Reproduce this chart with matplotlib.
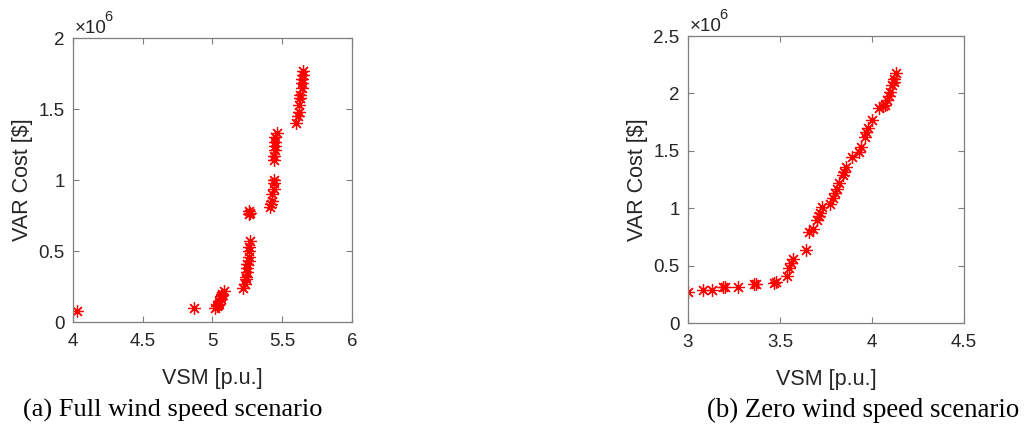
#!/usr/bin/env python3
# -*- coding: utf-8 -*-

import numpy as np
import matplotlib
matplotlib.use('Agg')
import matplotlib.pyplot as plt
from matplotlib.ticker import FuncFormatter

# (a) full wind speed scenario: VSM [p.u.] vs VAR cost [x1e6 $]
vsm_full = [4.03, 4.87,
            5.02, 5.03, 5.04, 5.05, 5.05, 5.06, 5.06, 5.07, 5.07, 5.08,
            5.22, 5.23, 5.24, 5.24, 5.25, 5.25, 5.25, 5.26, 5.26, 5.26, 5.26, 5.27,
            5.26, 5.27, 5.26,
            5.41, 5.42, 5.43, 5.43, 5.44, 5.44, 5.44,
            5.44, 5.44, 5.45, 5.45, 5.45, 5.45, 5.46,
            5.60, 5.61, 5.62, 5.62, 5.63, 5.63, 5.64, 5.64, 5.64, 5.65, 5.65]
cost_full = [0.08, 0.10,
             0.10, 0.11, 0.12, 0.13, 0.15, 0.16, 0.18, 0.19, 0.20, 0.22,
             0.24, 0.27, 0.30, 0.32, 0.35, 0.38, 0.41, 0.43, 0.46, 0.50, 0.53, 0.57,
             0.76, 0.77, 0.78,
             0.81, 0.83, 0.85, 0.90, 0.94, 0.98, 1.00,
             1.14, 1.17, 1.21, 1.24, 1.27, 1.30, 1.33,
             1.40, 1.45, 1.48, 1.53, 1.58, 1.60, 1.65, 1.68, 1.71, 1.74, 1.77]

# (b) zero wind speed scenario
vsm_zero = [3.00, 3.08, 3.13, 3.19, 3.20, 3.27, 3.36, 3.37, 3.47, 3.48,
            3.54, 3.55, 3.56, 3.57, 3.64, 3.66, 3.68, 3.70, 3.71, 3.72, 3.73,
            3.77, 3.79, 3.80, 3.81, 3.82, 3.84, 3.85, 3.86, 3.89, 3.93, 3.94,
            3.96, 3.97, 3.98, 4.00, 4.04, 4.06, 4.07, 4.08, 4.09, 4.10, 4.11,
            4.12, 4.12, 4.13]
cost_zero = [0.27, 0.29, 0.29, 0.31, 0.31, 0.31, 0.34, 0.34, 0.35, 0.36,
             0.41, 0.48, 0.52, 0.56, 0.64, 0.79, 0.82, 0.90, 0.93, 0.96, 1.01,
             1.04, 1.09, 1.13, 1.17, 1.22, 1.29, 1.32, 1.36, 1.45, 1.49, 1.53,
             1.62, 1.66, 1.70, 1.77, 1.87, 1.89, 1.90, 1.94, 1.98, 2.01, 2.07,
             2.10, 2.13, 2.18]

x_ticks_a = [4, 4.5, 5, 5.5, 6]
y_ticks_a = [0, 0.5, 1, 1.5, 2]
x_ticks_b = [3, 3.5, 4, 4.5]
y_ticks_b = [0, 0.5, 1, 1.5, 2, 2.5]

captions = ['(a) Full wind speed scenario', '(b) Zero wind speed scenario']

plt.rcParams['font.family'] = ['Liberation Sans', 'DejaVu Sans']

fig = plt.figure(figsize=(10.25, 4.29), dpi=100)
ax_a = fig.add_axes([0.0712, 0.2494, 0.2722, 0.662])
ax_b = fig.add_axes([0.6712, 0.247, 0.2693, 0.669])

edge = '#7f7f7f'
txt = '#262626'


def style_axes(ax, xs, ys, xticks, yticks):
    # MATLAB style '*' marker = 8 armed asterisk
    ax.plot(np.array(xs), np.array(ys) * 1e6, linestyle='none', marker=(8, 2, 0),
            color='#ff0000', markersize=9, markeredgewidth=0.9)
    ax.set_xlim(xticks[0], xticks[-1])
    ax.set_ylim(yticks[0] * 1e6, yticks[-1] * 1e6)
    ax.set_xticks(xticks)
    ax.set_yticks([v * 1e6 for v in yticks])
    ax.xaxis.set_major_formatter(FuncFormatter(lambda v, p: f'{v:g}'))
    ax.yaxis.set_major_formatter(FuncFormatter(lambda v, p: f'{v / 1e6:g}'))
    ax.tick_params(direction='in', length=4, width=0.8, color=edge,
                   labelsize=13.5, labelcolor=txt, top=True, right=True)
    ax.tick_params(axis='x', pad=8)
    ax.tick_params(axis='y', pad=6)
    for sp in ax.spines.values():
        sp.set_color(edge)
        sp.set_linewidth(0.9)
    ax.set_xlabel('VSM [p.u.]', fontsize=15.5, color=txt, labelpad=13)
    ax.set_ylabel('VAR Cost [$]', fontsize=15.5, color=txt, labelpad=4)
    # MATLAB-like exponent label above the top left corner
    ax.text(0.006, 1.018, '×10', transform=ax.transAxes, fontsize=13.5,
            color=txt, ha='left', va='baseline')
    ax.text(0.112, 1.05, '6', transform=ax.transAxes, fontsize=10.5,
            color=txt, ha='left', va='bottom')


style_axes(ax_a, vsm_full, cost_full, x_ticks_a, y_ticks_a)
style_axes(ax_b, vsm_zero, cost_zero, x_ticks_b, y_ticks_b)

fig.text(23 / 1025, 1 - 410 / 429, captions[0], family='Liberation Serif',
         fontsize=19, color='black', ha='left', va='center')
fig.text(1019 / 1025, 1 - 410 / 429, captions[1], family='Liberation Serif',
         fontsize=19.3, color='black', ha='right', va='center')

fig.savefig('out.png', dpi=100, facecolor='white')
